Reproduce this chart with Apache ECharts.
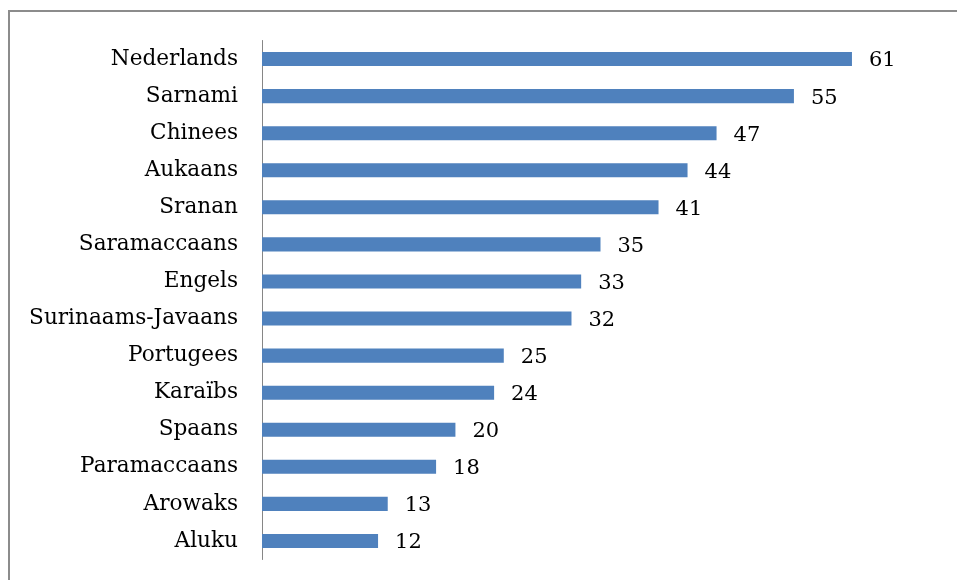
<!DOCTYPE html>
<html>
<head>
<meta charset="utf-8">
<script src="https://cdn.jsdelivr.net/npm/echarts@6/dist/echarts.min.js"></script>
<style>
  html, body { margin: 0; padding: 0; background: #fff; }
  #chart { width: 957px; height: 580px; }
</style>
</head>
<body>
<div id="chart"></div>
<script>
// Languages, listed top to bottom
const languages = [
  'Nederlands', 'Sarnami', 'Chinees', 'Aukaans', 'Sranan', 'Saramaccaans',
  'Engels', 'Surinaams-Javaans', 'Portugees', 'Karaïbs', 'Spaans',
  'Paramaccaans', 'Arowaks', 'Aluku'
];
const counts = [61, 55, 47, 44, 41, 35, 33, 32, 25, 24, 20, 18, 13, 12];

const font = '"DejaVu Serif", serif';
const chart = echarts.init(document.getElementById('chart'));

chart.setOption({
  animation: false,
  backgroundColor: '#ffffff',
  graphic: [{
    type: 'rect',
    shape: { x: 9, y: 11, width: 1100, height: 1100 },
    style: { fill: 'none', stroke: '#8c8c8c', lineWidth: 2 },
    silent: true
  }],
  grid: { left: 262, right: 18, top: 40.5, bottom: 20.5 },
  xAxis: {
    type: 'value',
    min: 0,
    max: 70,
    show: false
  },
  yAxis: {
    type: 'category',
    inverse: true,
    data: languages,
    axisLine: { show: true, lineStyle: { color: '#868686', width: 1 } },
    axisTick: { show: false },
    axisLabel: {
      margin: 24,
      color: '#000',
      fontFamily: font,
      fontSize: 21.6,
      padding: [4, 0, 0, 0]
    }
  },
  series: [{
    type: 'bar',
    data: counts,
    barWidth: '38%',
    itemStyle: { color: '#4F81BD' },
    label: {
      show: true,
      position: 'right',
      distance: 17,
      offset: [0, 2],
      color: '#000',
      fontFamily: font,
      fontSize: 21
    }
  }]
});
</script>
</body>
</html>
